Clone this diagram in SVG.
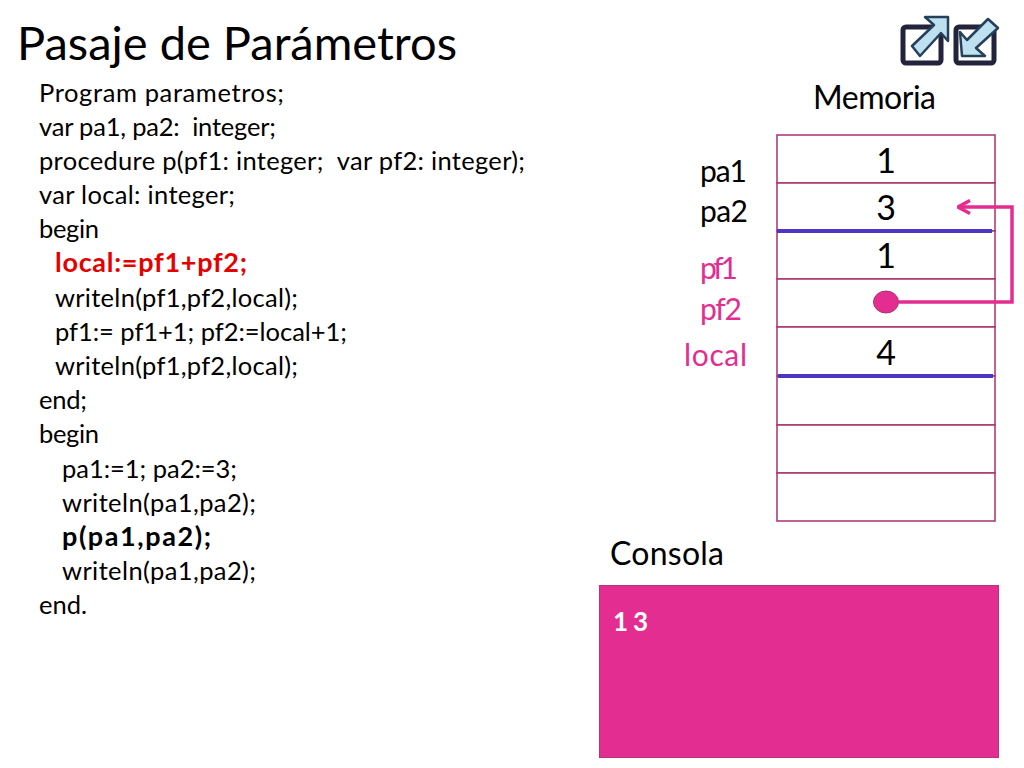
<svg xmlns="http://www.w3.org/2000/svg" width="1024" height="768" viewBox="0 0 1024 768">
<style>
text{font-family:Lato,"Noto Sans",sans-serif;fill:#000;white-space:pre}
.c{font-size:25.500px}
.b{font-size:27px;font-weight:700}
.m{font-size:32px}
.l{font-size:30px}
.f{font-size:30px;font-variant-ligatures:none}
.v{font-size:34px;text-anchor:middle}
.r{fill:#e60000}
.p{fill:#e32d91}
.cell{fill:#fff;stroke:#a8336f;stroke-width:1.500}
.bar{stroke:#4f35c4;stroke-width:4;fill:none}
.ic{fill:#fff;stroke:#23233c;stroke-width:5}
.ar{fill:#bfe0ef;stroke:#24405a;stroke-width:2.500;stroke-linejoin:round}
</style>
<defs><marker id="ah" viewBox="0 0 16 16" refX="15" refY="8" markerWidth="16" markerHeight="16" markerUnits="userSpaceOnUse" orient="auto"><path d="M3 1.500L15 8L3 14.500" fill="none" stroke="#e32d91" stroke-width="3.500"/></marker></defs>
<g id="title"><text x="17" y="60" font-size="47" textLength="440">Pasaje de Parámetros</text></g>
<g id="icons">
<g id="icon-out"><rect x="903" y="27" width="38" height="36" rx="3" class="ic"/><path d="M912 46L934 25L925 17L948 17L948 41L941 33L920 56Z" class="ar"/></g>
<g id="icon-in"><rect x="956" y="27" width="38" height="36" rx="3" class="ic"/><path d="M998 28L976 48L985 56L962 56L960 32L967 40L988 19Z" class="ar"/></g>
</g>
<g id="code">
<text class="c" x="39" y="102" textLength="245">Program parametros;</text>
<text class="c" x="39" y="136" textLength="237">var pa1, pa2:  integer;</text>
<text class="c" x="39" y="170" textLength="486">procedure p(pf1: integer;  var pf2: integer);</text>
<text class="c" x="39" y="204" textLength="196">var local: integer;</text>
<text class="c" x="39" y="238" textLength="60">begin</text>
<text class="b r" x="55" y="272" textLength="192">local:=pf1+pf2;</text>
<text class="c" x="55" y="307" textLength="243">writeln(pf1,pf2,local);</text>
<text class="c" x="55" y="341" textLength="292">pf1:= pf1+1; pf2:=local+1;</text>
<text class="c" x="55" y="375" textLength="243">writeln(pf1,pf2,local);</text>
<text class="c" x="39" y="409" textLength="48">end;</text>
<text class="c" x="39" y="443" textLength="60">begin</text>
<text class="c" x="62" y="478" textLength="175">pa1:=1; pa2:=3;</text>
<text class="c" x="62" y="512" textLength="194">writeln(pa1,pa2);</text>
<text class="b" x="62" y="546" textLength="149">p(pa1,pa2);</text>
<text class="c" x="62" y="580" textLength="194">writeln(pa1,pa2);</text>
<text class="c" x="39" y="614" textLength="48">end.</text>
</g>
<g id="memoria">
<text class="m" x="813" y="109" textLength="123">Memoria</text>
<rect class="cell" x="777" y="135" width="218" height="48"/>
<rect class="cell" x="777" y="183" width="218" height="48"/>
<rect class="cell" x="777" y="231" width="218" height="48"/>
<rect class="cell" x="777" y="279" width="218" height="48"/>
<rect class="cell" x="777" y="327" width="218" height="49"/>
<rect class="cell" x="777" y="376" width="218" height="49"/>
<rect class="cell" x="777" y="425" width="218" height="48"/>
<rect class="cell" x="777" y="473" width="218" height="48"/>
<text class="v" x="886" y="173">1</text>
<text class="v" x="886" y="220">3</text>
<text class="v" x="886" y="268">1</text>
<text class="v" x="886" y="365">4</text>
<text class="l" x="700" y="182" textLength="47">pa1</text>
<text class="l" x="700" y="222" textLength="48">pa2</text>
<text class="f p" x="700" y="279" textLength="38">pf1</text>
<text class="f p" x="700" y="320" textLength="42">pf2</text>
<text class="l p" x="684" y="366" textLength="63">local</text>
</g>
<g id="connectors">
<path class="bar" d="M777 231H992M778 376H993"/>
<path d="M899 302H1012V207H958" fill="none" stroke="#e32d91" stroke-width="3.500" marker-end="url(#ah)"/>
</g>
<g id="pointer"><ellipse cx="886" cy="302" rx="12.500" ry="11" fill="#e32d91" stroke="#a8336f"/></g>
<g id="consola">
<text class="m" x="610" y="565" textLength="114">Consola</text>
<rect x="599.500" y="585.500" width="399" height="172" fill="#e32d91" stroke="#b8337c"/>
<text x="613" y="631" font-size="26" font-weight="700" style="fill:#fff" textLength="35">1 3</text>
</g>
</svg>
